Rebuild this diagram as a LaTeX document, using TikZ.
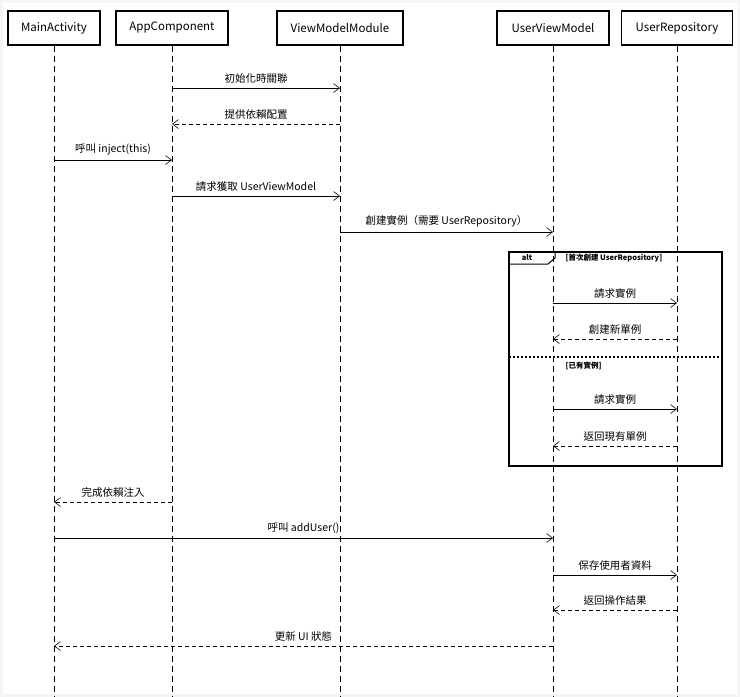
\documentclass[tikz,border=0pt]{standalone}
\usepackage{fontspec}
\setmainfont{Noto Sans CJK TC}
\usetikzlibrary{arrows.meta}
\begin{document}
\begin{tikzpicture}[x=1pt,y=-1pt,
 actor/.style={draw,line width=1.2pt,minimum height=34pt,font=\fontsize{11.5}{13}\selectfont,inner sep=0pt},
 life/.style={dash pattern=on 6pt off 4pt,line width=0.6pt},
 msg/.style={-{Straight Barb[length=6pt,width=9pt]},line width=0.6pt},
 ret/.style={msg,dash pattern=on 4pt off 3pt},
 lab/.style={font=\fontsize{10.5}{12}\selectfont,above=1pt}]
\fill[gray!8] (0,0) rectangle (740,697);
\fill[white] (3,3) rectangle (737,694);
\useasboundingbox (0,0) rectangle (740,697);
\node[actor,minimum width=92pt] (ma) at (54,28) {MainActivity};
\node[actor,minimum width=112pt] (ac) at (172,28) {AppComponent};
\node[actor,minimum width=126pt] (vm) at (340,28) {ViewModelModule};
\node[actor,minimum width=112pt] (uv) at (553,28) {UserViewModel};
\node[actor,minimum width=111pt] (ur) at (677,28) {UserRepository};
\foreach \n/\x in {ma/54,ac/172,vm/340,uv/553,ur/677}{
 \coordinate (\n-e) at (\x,697);
 \draw[life] (\n.south) -- (\n-e);}
\foreach \n/\x in {ma/54,ac/172,vm/340,uv/553,ur/677}{
 \foreach \y in {88,124,160,196,232,303,339,409,446,502,538,575,610,646}{
  \coordinate (\n\y) at (\x,\y);}}
\draw[msg] (ac88) -- node[lab]{初始化時關聯} (vm88);
\draw[ret] (vm124) -- node[lab]{提供依賴配置} (ac124);
\draw[msg] (ma160) -- node[lab]{呼叫 inject(this)} (ac160);
\draw[msg] (ac196) -- node[lab]{請求獲取 UserViewModel} (vm196);
\draw[msg] (vm232) -- node[lab]{創建實例（需要 UserRepository）} (uv232);
\draw[line width=1.2pt] (509,252) rectangle (722,466);
\draw[line width=1pt] (509,264) -- (548,264) -- (555,258) -- (555,252);
\node[font=\bfseries\fontsize{7.5}{8}\selectfont] (altl) at (527,258) {alt};
\node[font=\bfseries\fontsize{7.5}{8}\selectfont,anchor=west] (g1) at (562,258) {[首次創建 UserRepository]};
\draw[line width=1.2pt,dash pattern=on 2pt off 2pt] (509,357) -- (722,357);
\node[font=\bfseries\fontsize{7.5}{8}\selectfont,anchor=west] (g2) at (562,366) {[已有實例]};
\draw[msg] (uv303) -- node[lab]{請求實例} (ur303);
\draw[ret] (ur339) -- node[lab]{創建新單例} (uv339);
\draw[msg] (uv409) -- node[lab]{請求實例} (ur409);
\draw[ret] (ur446) -- node[lab]{返回現有單例} (uv446);
\draw[ret] (ac502) -- node[lab]{完成依賴注入} (ma502);
\draw[msg] (ma538) -- node[lab]{呼叫 addUser()} (uv538);
\draw[msg] (uv575) -- node[lab]{保存使用者資料} (ur575);
\draw[ret] (ur610) -- node[lab]{返回操作結果} (uv610);
\draw[ret] (uv646) -- node[lab]{更新 UI 狀態} (ma646);
\end{tikzpicture}
\end{document}
